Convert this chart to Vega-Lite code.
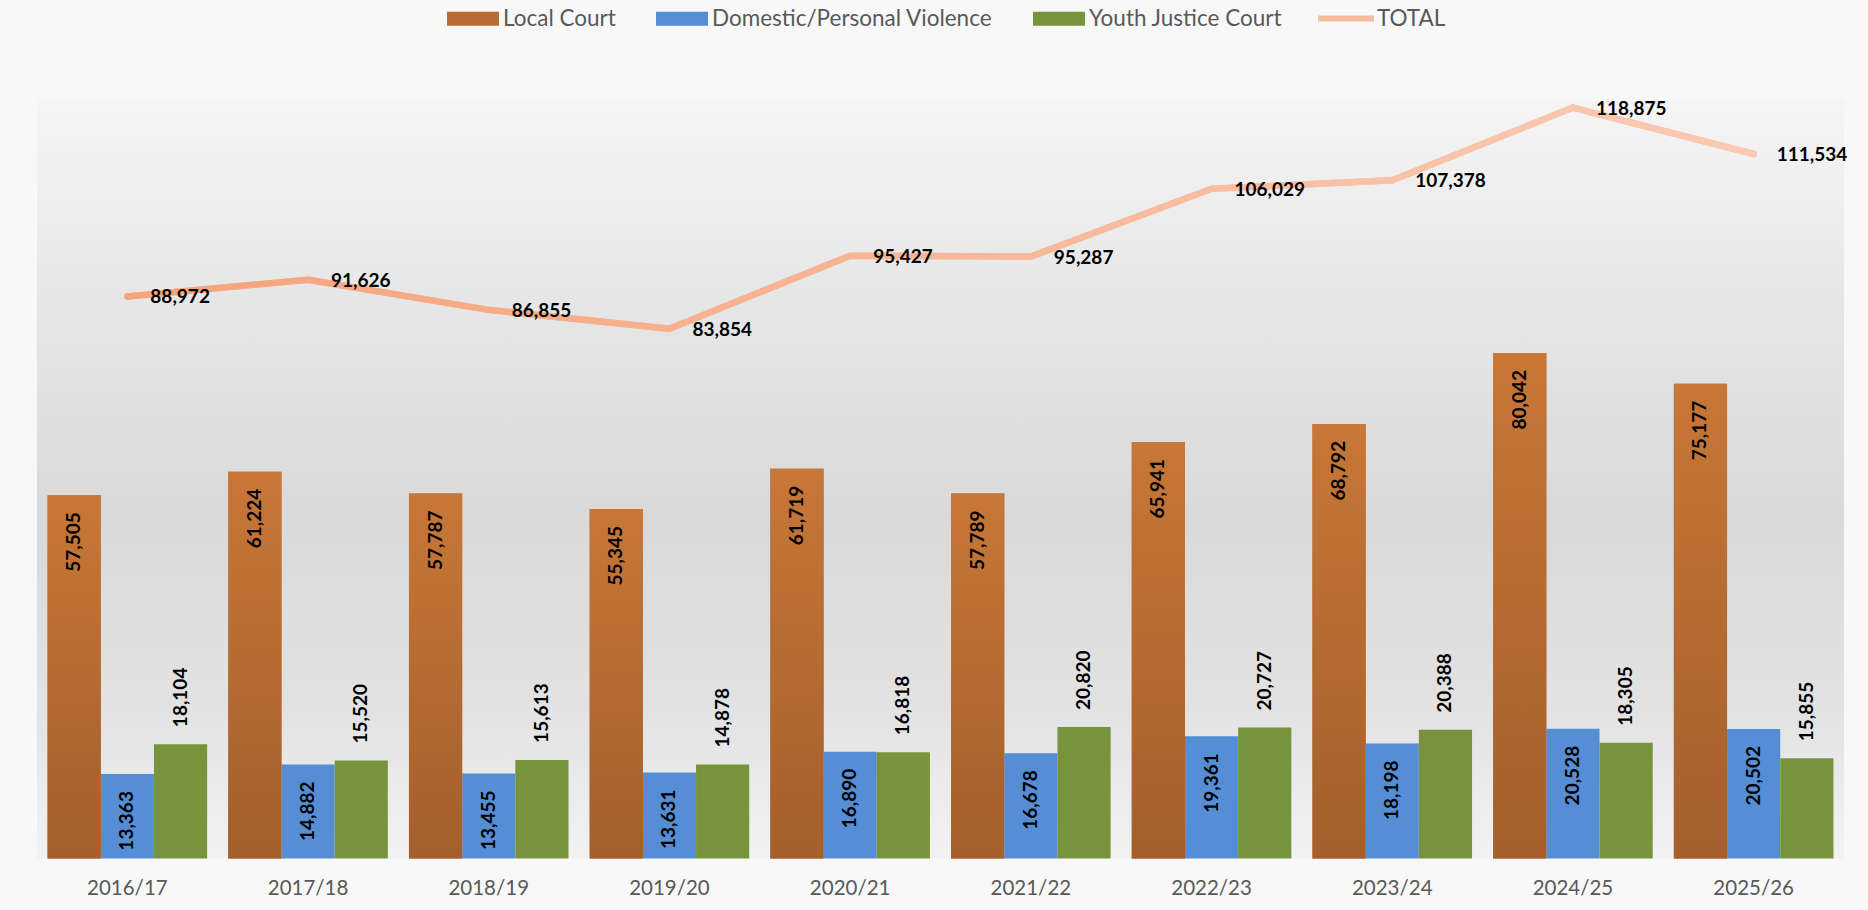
{
  "$schema": "https://vega.github.io/schema/vega-lite/v6.json",
  "width": 1807,
  "height": 758,
  "autosize": {"type": "none"},
  "padding": {"left": 37, "top": 100.5, "right": 24, "bottom": 51.5},
  "background": "#f8f8f8",
  "config": {"view": {"stroke": null}, "font": "Lato"},
  "data": {
    "values": [
      {"year": "2016/17", "series": "Local Court", "value": 57505},
      {"year": "2016/17", "series": "Domestic/Personal Violence", "value": 13363},
      {"year": "2016/17", "series": "Youth Justice Court", "value": 18104},
      {"year": "2016/17", "series": "TOTAL", "value": 88972},
      {"year": "2017/18", "series": "Local Court", "value": 61224},
      {"year": "2017/18", "series": "Domestic/Personal Violence", "value": 14882},
      {"year": "2017/18", "series": "Youth Justice Court", "value": 15520},
      {"year": "2017/18", "series": "TOTAL", "value": 91626},
      {"year": "2018/19", "series": "Local Court", "value": 57787},
      {"year": "2018/19", "series": "Domestic/Personal Violence", "value": 13455},
      {"year": "2018/19", "series": "Youth Justice Court", "value": 15613},
      {"year": "2018/19", "series": "TOTAL", "value": 86855},
      {"year": "2019/20", "series": "Local Court", "value": 55345},
      {"year": "2019/20", "series": "Domestic/Personal Violence", "value": 13631},
      {"year": "2019/20", "series": "Youth Justice Court", "value": 14878},
      {"year": "2019/20", "series": "TOTAL", "value": 83854},
      {"year": "2020/21", "series": "Local Court", "value": 61719},
      {"year": "2020/21", "series": "Domestic/Personal Violence", "value": 16890},
      {"year": "2020/21", "series": "Youth Justice Court", "value": 16818},
      {"year": "2020/21", "series": "TOTAL", "value": 95427},
      {"year": "2021/22", "series": "Local Court", "value": 57789},
      {"year": "2021/22", "series": "Domestic/Personal Violence", "value": 16678},
      {"year": "2021/22", "series": "Youth Justice Court", "value": 20820},
      {"year": "2021/22", "series": "TOTAL", "value": 95287},
      {"year": "2022/23", "series": "Local Court", "value": 65941},
      {"year": "2022/23", "series": "Domestic/Personal Violence", "value": 19361},
      {"year": "2022/23", "series": "Youth Justice Court", "value": 20727},
      {"year": "2022/23", "series": "TOTAL", "value": 106029},
      {"year": "2023/24", "series": "Local Court", "value": 68792},
      {"year": "2023/24", "series": "Domestic/Personal Violence", "value": 18198},
      {"year": "2023/24", "series": "Youth Justice Court", "value": 20388},
      {"year": "2023/24", "series": "TOTAL", "value": 107378},
      {"year": "2024/25", "series": "Local Court", "value": 80042},
      {"year": "2024/25", "series": "Domestic/Personal Violence", "value": 20528},
      {"year": "2024/25", "series": "Youth Justice Court", "value": 18305},
      {"year": "2024/25", "series": "TOTAL", "value": 118875},
      {"year": "2025/26", "series": "Local Court", "value": 75177},
      {"year": "2025/26", "series": "Domestic/Personal Violence", "value": 20502},
      {"year": "2025/26", "series": "Youth Justice Court", "value": 15855},
      {"year": "2025/26", "series": "TOTAL", "value": 111534}
    ]
  },
  "encoding": {
    "x": {
      "field": "year",
      "type": "nominal",
      "title": null,
      "scale": {"paddingInner": 0.117, "paddingOuter": 0.0585},
      "axis": {
        "labelAngle": 0,
        "ticks": false,
        "domain": false,
        "grid": false,
        "labelFont": "Lato",
        "labelFontSize": 20.5,
        "labelColor": "#595959",
        "labelPadding": 30,
        "labelBaseline": "middle"
      }
    },
    "y": {
      "field": "value",
      "type": "quantitative",
      "scale": {"domain": [0, 120000], "nice": false, "zero": true},
      "axis": null
    }
  },
  "layer": [
    {
      "data": {"values": [{}]},
      "mark": {
        "type": "rect",
        "fill": {
          "gradient": "linear",
          "x1": 0, "y1": 0, "x2": 0, "y2": 1,
          "stops": [
            {"offset": 0, "color": "#f5f5f5"},
            {"offset": 0.25, "color": "#e7e7e7"},
            {"offset": 0.55, "color": "#d9d9d9"},
            {"offset": 0.8, "color": "#e2e2e2"},
            {"offset": 1, "color": "#f2f2f2"}
          ]
        }
      },
      "encoding": {"x": null, "y": null}
    },
    {
      "transform": [{"filter": "datum.series !== 'TOTAL'"}],
      "mark": {"type": "bar"},
      "encoding": {
        "xOffset": {
          "field": "series",
          "type": "nominal",
          "scale": {
            "domain": ["Local Court", "Domestic/Personal Violence", "Youth Justice Court"],
            "paddingInner": 0,
            "paddingOuter": 0
          }
        },
        "color": {
          "field": "series",
          "type": "nominal",
          "scale": {
            "domain": ["Local Court", "Domestic/Personal Violence", "Youth Justice Court"],
            "range": ["#B86C33", "#558ED5", "#77933C"]
          },
          "legend": {
            "title": null,
            "orient": "none",
            "direction": "horizontal",
            "columns": 3,
            "legendX": 410,
            "legendY": -108,
            "symbolType": "M-1,-0.27H1V0.27H-1Z",
            "symbolSize": 2704,
            "symbolStrokeWidth": 0,
            "symbolOpacity": 1,
            "labelFont": "Lato",
            "labelFontSize": 22.5,
            "labelColor": "#595959",
            "labelOffset": 4,
            "columnPadding": 40,
            "labelLimit": 500
          }
        }
      }
    },
    {
      "transform": [{"filter": "datum.series === 'Local Court'"}],
      "mark": {
        "type": "bar",
        "fill": {
          "gradient": "linear",
          "x1": 0, "y1": 0, "x2": 0, "y2": 1,
          "stops": [
            {"offset": 0, "color": "#C77737"},
            {"offset": 1, "color": "#A45F2C"}
          ]
        }
      },
      "encoding": {
        "xOffset": {"field": "series", "type": "nominal"}
      }
    },
    {
      "transform": [{"filter": "datum.series === 'TOTAL'"}],
      "mark": {"type": "line", "strokeWidth": 6.5, "strokeCap": "round", "strokeJoin": "round"},
      "encoding": {
        "stroke": {
          "field": "series",
          "type": "nominal",
          "scale": {"domain": ["TOTAL"], "range": ["#F8BA9C"]},
          "legend": {
            "title": null,
            "orient": "none",
            "direction": "horizontal",
            "legendX": 1278,
            "legendY": -113,
            "symbolType": "stroke",
            "symbolSize": 3136,
            "symbolStrokeWidth": 6,
            "symbolOpacity": 1,
            "labelFont": "Lato",
            "labelFontSize": 22.5,
            "labelColor": "#595959",
            "labelOffset": 0
          }
        }
      }
    },
    {
      "transform": [{"filter": "datum.series === 'TOTAL'"}],
      "mark": {
        "type": "line",
        "strokeWidth": 6.5,
        "strokeCap": "round",
        "strokeJoin": "round",
        "stroke": {
          "gradient": "linear",
          "x1": 0, "y1": 0, "x2": 1, "y2": 0,
          "stops": [
            {"offset": 0, "color": "#F5A47C"},
            {"offset": 1, "color": "#FACAB3"}
          ]
        }
      },
      "encoding": {}
    },
    {
      "transform": [{"filter": "datum.series === 'Local Court' || datum.series === 'Domestic/Personal Violence'"}],
      "mark": {
        "type": "text",
        "angle": 270,
        "align": "right",
        "baseline": "middle",
        "dx": -17,
        "font": "Lato",
        "fontWeight": "bold",
        "fontSize": 19,
        "color": "#000000"
      },
      "encoding": {
        "xOffset": {"field": "series", "type": "nominal"},
        "text": {"field": "value", "type": "quantitative", "format": ","}
      }
    },
    {
      "transform": [{"filter": "datum.series === 'Youth Justice Court'"}],
      "mark": {
        "type": "text",
        "angle": 270,
        "align": "left",
        "baseline": "middle",
        "dx": 17,
        "font": "Lato",
        "fontWeight": "bold",
        "fontSize": 19,
        "color": "#000000"
      },
      "encoding": {
        "xOffset": {"field": "series", "type": "nominal"},
        "text": {"field": "value", "type": "quantitative", "format": ","}
      }
    },
    {
      "transform": [{"filter": "datum.series === 'TOTAL'"}],
      "mark": {
        "type": "text",
        "align": "left",
        "baseline": "middle",
        "dx": 23,
        "dy": 1,
        "font": "Lato",
        "fontWeight": "bold",
        "fontSize": 19,
        "color": "#000000"
      },
      "encoding": {
        "text": {"field": "value", "type": "quantitative", "format": ","}
      }
    }
  ]
}
